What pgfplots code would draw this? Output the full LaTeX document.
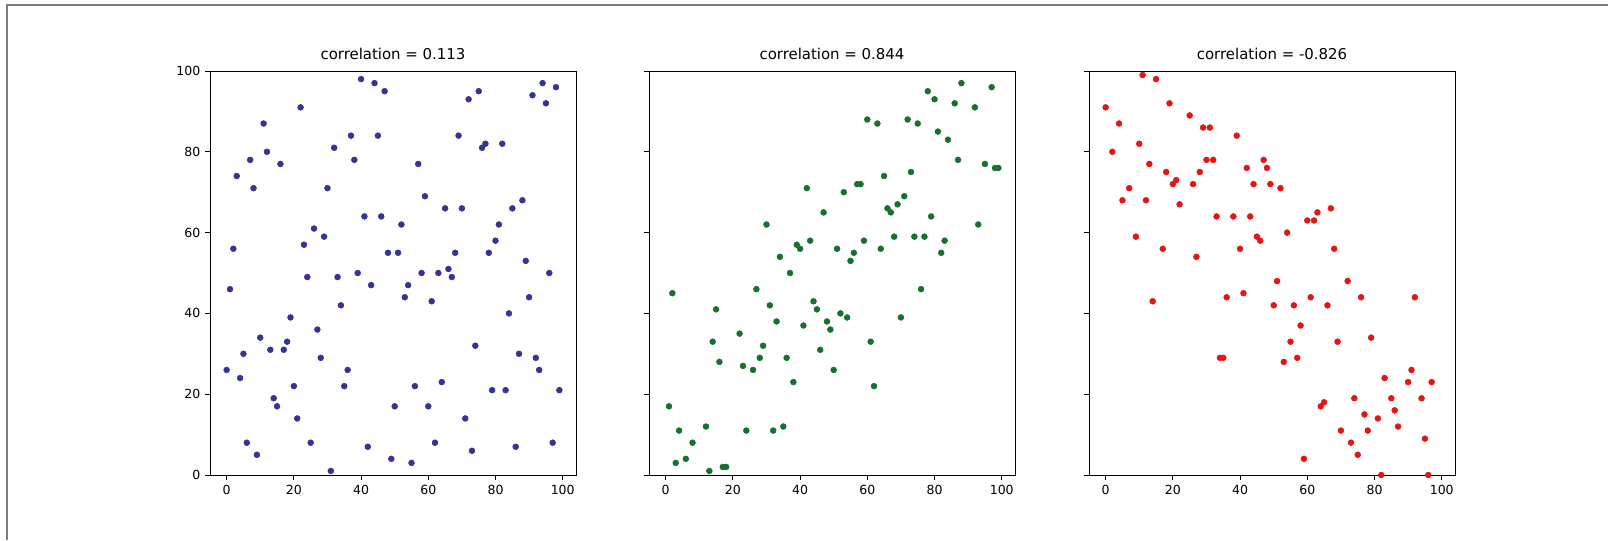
\documentclass[border=0pt]{standalone}
\usepackage{pgfplots}
\pgfplotsset{compat=1.18}
\usepackage{fontspec}
\setmainfont{DejaVu Sans}

\definecolor{cblue}{RGB}{52,52,150}
\definecolor{cgreen}{RGB}{22,112,48}
\definecolor{cred}{RGB}{230,20,20}
\definecolor{frame}{RGB}{125,125,125}

\pgfplotsset{
  panel/.style={
    scale only axis,
    width=274.5pt, height=303pt,
    anchor=south west,
    xmin=-4.95, xmax=103.95,
    ymin=0, ymax=100,
    xtick={0,20,...,100},
    ytick={0,20,...,100},
    tick align=outside,
    tick pos=left,
    major tick length=3.75pt,
    axis line style={line width=0.7pt},
    every tick/.style={black, line width=0.7pt},
    tick label style={font=\fontsize{9.4}{11}\selectfont},
    /pgf/number format/assume math mode=true,
    title style={font=\fontsize{11.2}{13}\selectfont, yshift=-1pt},
  },
  dots/.style={only marks, mark=*, mark size=2.2pt, mark options={draw=#1, fill=#1}},
}

\begin{document}
\begin{tikzpicture}
\useasboundingbox (0,0) rectangle (1206pt,405pt);
% frame left over from the notebook screenshot
\draw[frame, line width=1.1pt] (5.25pt,0) -- (5.25pt,401.25pt) -- (1206pt,401.25pt);

% panel 1
\begin{axis}[panel, at={(157.5pt,48.75pt)}, title={correlation = 0.113}]
\addplot[dots=cblue] table {
x y
0 26
1 46
2 56
3 74
4 24
5 30
6 8
7 78
8 71
9 5
10 34
11 87
12 80
13 31
14 19
15 17
16 77
17 31
18 33
19 39
20 22
21 14
22 91
23 57
24 49
25 8
26 61
27 36
28 29
29 59
30 71
31 1
32 81
33 49
34 42
35 22
36 26
37 84
38 78
39 50
40 98
41 64
42 7
43 47
44 97
45 84
46 64
47 95
48 55
49 4
50 17
51 55
52 62
53 44
54 47
55 3
56 22
57 77
58 50
59 69
60 17
61 43
62 8
63 50
64 23
65 66
66 51
67 49
68 55
69 84
70 66
71 14
72 93
73 6
74 32
75 95
76 81
77 82
78 55
79 21
80 58
81 62
82 82
83 21
84 40
85 66
86 7
87 30
88 68
89 53
90 44
91 94
92 29
93 26
94 97
95 92
96 50
97 8
98 96
99 21
};
\end{axis}

% panel 2
\begin{axis}[panel, at={(486.75pt,48.75pt)}, yticklabels={}, title={correlation = 0.844}]
\addplot[dots=cgreen] table {
x y
1 17
2 45
3 3
4 11
6 4
8 8
12 12
13 1
14 33
15 41
16 28
17 2
18 2
22 35
23 27
24 11
26 26
27 46
28 29
29 32
30 62
31 42
32 11
33 38
34 54
35 12
36 29
37 50
38 23
39 57
40 56
41 37
42 71
43 58
44 43
45 41
46 31
47 65
48 38
49 36
50 26
51 56
52 40
53 70
54 39
55 53
56 55
57 72
58 72
59 58
60 88
61 33
62 22
63 87
64 56
65 74
66 66
67 65
68 59
69 67
70 39
71 69
72 88
73 75
74 59
75 87
76 46
77 59
78 95
79 64
80 93
81 85
82 55
83 58
84 83
86 92
87 78
88 97
92 91
93 62
95 77
97 96
98 76
99 76
};
\end{axis}

% panel 3
\begin{axis}[panel, at={(816.75pt,48.75pt)}, yticklabels={}, title={correlation = -0.826}]
\addplot[dots=cred] table {
x y
0 91
2 80
4 87
5 68
7 71
9 59
10 82
11 99
12 68
13 77
14 43
15 98
17 56
18 75
19 92
20 72
21 73
22 67
25 89
26 72
27 54
28 75
29 86
30 78
31 86
32 78
33 64
34 29
35 29
36 44
38 64
39 84
40 56
41 45
42 76
43 64
44 72
45 59
46 58
47 78
48 76
49 72
50 42
51 48
52 71
53 28
54 60
55 33
56 42
57 29
58 37
59 4
60 63
61 44
62 63
63 65
64 17
65 18
66 42
67 66
68 56
69 33
70 11
72 48
73 8
74 19
75 5
76 44
77 15
78 11
79 34
81 14
82 0
83 24
85 19
86 16
87 12
90 23
91 26
92 44
94 19
95 9
96 0
97 23
};
\end{axis}
\end{tikzpicture}
\end{document}
